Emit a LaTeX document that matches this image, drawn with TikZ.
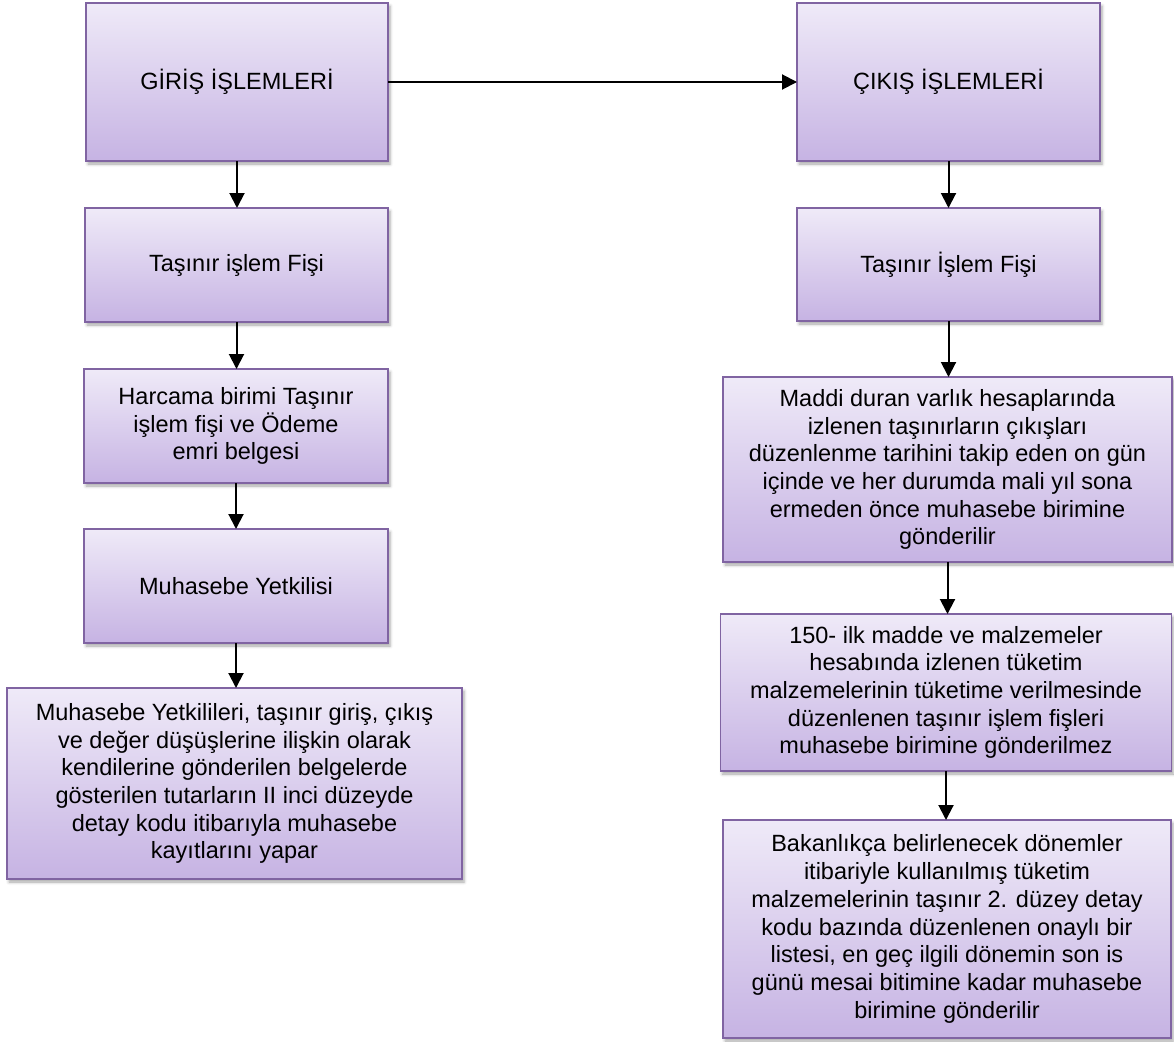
\documentclass[tikz,border=0pt]{standalone}
\usepackage{fontspec}
\setmainfont{Liberation Sans}
\usetikzlibrary{arrows.meta,shadows.blur}
\definecolor{boxtop}{HTML}{EFEAF8}
\definecolor{boxbot}{HTML}{C6B3E3}
\definecolor{boxline}{HTML}{8064A2}
\tikzset{
  flowbox/.style={rectangle, draw=boxline, line width=1.5pt,
    top color=boxtop, bottom color=boxbot, align=center,
    inner sep=0pt, outer sep=0pt,
    font=\fontsize{23.5}{27.7}\selectfont,
    blur shadow={shadow xshift=2pt, shadow yshift=-3pt, shadow blur radius=3pt, shadow opacity=35}},
  arr/.style={line width=2pt, -{Triangle[length=15pt,width=15pt]}}
}
\begin{document}
\begin{tikzpicture}[x=1pt,y=-1pt]
\useasboundingbox (0,0) rectangle (1174,1041);
% left column
\node[flowbox, minimum width=302pt, minimum height=158pt] (L1) at (237,82) {GİRİŞ İŞLEMLERİ};
\node[flowbox, minimum width=303pt, minimum height=114pt] (L2) at (236.5,265) {Taşınır işlem Fişi};
\node[flowbox, minimum width=304pt, minimum height=114pt] (L3) at (236,426) {Harcama birimi Taşınır\\işlem fişi ve Ödeme\\emri belgesi};
\node[flowbox, minimum width=304pt, minimum height=114pt] (L4) at (236,586) {Muhasebe Yetkilisi};
\node[flowbox, minimum width=455pt, minimum height=191pt] (L5) at (234.5,783.5) {Muhasebe Yetkilileri, taşınır giriş, çıkış\\ve değer düşüşlerine ilişkin olarak\\kendilerine gönderilen belgelerde\\gösterilen tutarların II inci düzeyde\\detay kodu itibarıyla muhasebe\\kayıtlarını yapar};
% right column
\node[flowbox, minimum width=303pt, minimum height=158pt] (R1) at (948.5,82) {ÇIKIŞ İŞLEMLERİ};
\node[flowbox, minimum width=303pt, minimum height=113pt] (R2) at (948.5,264.5) {Taşınır İşlem Fişi};
\node[flowbox, minimum width=449pt, minimum height=185pt] (R3) at (947.5,469.5) {Maddi duran varlık hesaplarında\\izlenen taşınırların çıkışları\\düzenlenme tarihini takip eden on gün\\içinde ve her durumda mali yıl sona\\ermeden önce muhasebe birimine\\gönderilir};
\node[flowbox, minimum width=451pt, minimum height=157pt] (R4) at (946,692.5) {150- ilk madde ve malzemeler\\hesabında izlenen tüketim\\malzemelerinin tüketime verilmesinde\\düzenlenen taşınır işlem fişleri\\muhasebe birimine gönderilmez};
\node[flowbox, minimum width=448pt, minimum height=218pt] (R5) at (947,929) {Bakanlıkça belirlenecek dönemler\\itibariyle kullanılmış tüketim\\malzemelerinin taşınır 2. düzey detay\\kodu bazında düzenlenen onaylı bir\\listesi, en geç ilgili dönemin son is\\günü mesai bitimine kadar muhasebe\\birimine gönderilir};
% connectors
\draw[arr] (L1.east) -- (R1.west);
\draw[arr] (L1.south) -- (L1.south |- L2.north);
\draw[arr] (L2.south) -- (L2.south |- L3.north);
\draw[arr] (L3.south) -- (L3.south |- L4.north);
\draw[arr] (L4.south) -- (L4.south |- L5.north);
\draw[arr] (R1.south) -- (R1.south |- R2.north);
\draw[arr] (R2.south) -- (R2.south |- R3.north);
\draw[arr] (R3.south) -- (R3.south |- R4.north);
\draw[arr] (R4.south) -- (R4.south |- R5.north);
\end{tikzpicture}
\end{document}
